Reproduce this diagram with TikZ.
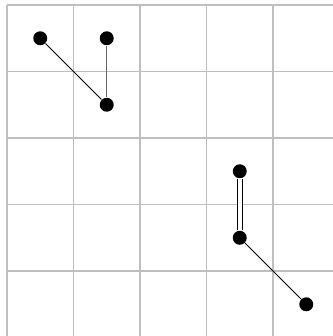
\documentclass[tikz,border=0pt]{standalone}
\begin{document}
\begin{tikzpicture}[x=1cm,y=-1cm,
  dot/.style={circle,fill=black,inner sep=0pt,minimum size=0.21cm},
  gridline/.style={black!25,line width=0.5pt},
  thin edge/.style={black,line width=0.4pt},
  double edge/.style={double,double distance=1.6pt,line width=0.4pt}]
\useasboundingbox (-0.105,-0.075) rectangle (4.887,4.977);
\draw[gridline] (0,0) grid (5,5);
\node[dot] (a) at (0.5,0.5) {};
\node[dot] (b) at (1.5,0.5) {};
\node[dot] (c) at (1.5,1.5) {};
\node[dot] (d) at (3.5,2.5) {};
\node[dot] (e) at (3.5,3.5) {};
\node[dot] (f) at (4.5,4.5) {};
\draw[thin edge] (a) -- (c);
\draw[black!60,line width=0.6pt] (b) -- (c);
\draw[double edge] (d) -- (e);
\draw[thin edge] (e) -- (f);
\end{tikzpicture}
\end{document}
